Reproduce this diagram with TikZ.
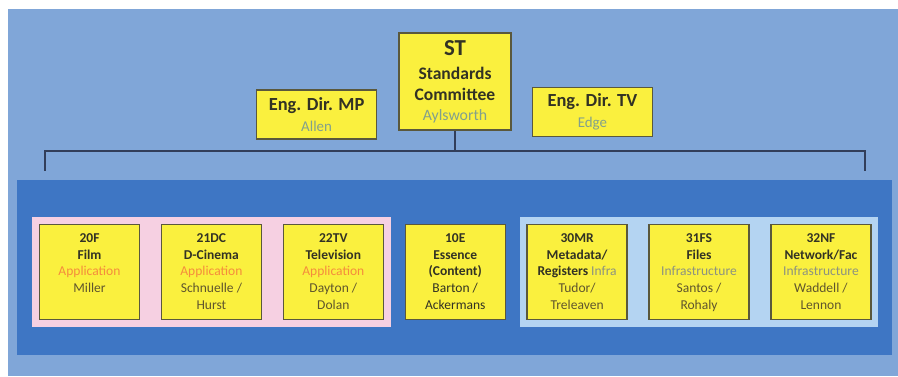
\documentclass[tikz,border=0pt]{standalone}
\usepackage{fontspec}
\setmainfont{Carlito}
\usetikzlibrary{positioning, fit, backgrounds}

\definecolor{pagebg}{RGB}{128,166,216}
\definecolor{bandbg}{RGB}{62,118,196}
\definecolor{pinkbg}{RGB}{246,208,226}
\definecolor{skybg}{RGB}{180,212,242}
\definecolor{boxfill}{RGB}{250,240,62}
\definecolor{boxline}{RGB}{90,88,60}
\definecolor{appcol}{RGB}{245,140,60}
\definecolor{infracol}{RGB}{140,146,128}
\definecolor{namecol}{RGB}{95,85,45}
\definecolor{headcol}{RGB}{50,50,36}
\definecolor{chaircol}{RGB}{130,160,140}
\definecolor{linecol}{RGB}{50,62,90}

\newcommand{\unittext}[1]{\parbox[c][1.9cm][t]{1.98cm}{\centering\vspace*{5pt}#1}}

\begin{document}
\begin{tikzpicture}[
      node distance = 0.41cm,
      head/.style = {draw=boxline, line width=0.8pt, fill=boxfill, align=center,
                     text=headcol, inner sep=0pt, font=\fontsize{10}{12}\selectfont},
      unit/.style = {draw=boxline, line width=0.8pt, fill=boxfill, inner sep=0pt,
                     minimum width=2.0cm, minimum height=1.9cm, text=headcol,
                     font=\fontsize{7.7}{9.6}\selectfont},
      grp/.style  = {inner sep=0.13cm},
      bus/.style  = {draw=linecol, line width=0.8pt}
    ]
    \useasboundingbox (0,0) rectangle (17.96,-7.54);

    % ---- top: committee and engineering directors ----
    \node[head, minimum width=2.24cm, minimum height=1.94cm] (st) at (9.1,-1.63)
        {{\fontsize{13}{15}\selectfont\bfseries ST}\\[2pt]
         {\bfseries Standards}\\
         {\bfseries Committee}\\[-1pt]
         {\color{chaircol}\fontsize{9}{11}\selectfont Aylsworth}};
    \node[head, minimum width=2.4cm, minimum height=0.98cm,
          left=0.42cm of st, yshift=-0.66cm] (engmp)
        {{\bfseries\fontsize{10.5}{12}\selectfont Eng. Dir. MP}\\
         {\color{chaircol}\fontsize{8.5}{10}\selectfont Allen}};
    \node[head, minimum width=2.4cm, minimum height=0.98cm,
          right=0.4cm of st, yshift=-0.61cm] (engtv)
        {{\bfseries\fontsize{10.5}{12}\selectfont Eng. Dir. TV}\\
         {\color{chaircol}\fontsize{8.5}{10}\selectfont Edge}};

    % ---- bottom row: technology committees ----
    \node[unit] (f20) at (1.79,-5.44)
        {\unittext{\textbf{20F}\\\textbf{Film}\\{\color{appcol}Application}\\{\color{namecol}Miller}}};
    \node[unit, right=of f20] (dc21)
        {\unittext{\textbf{21DC}\\\textbf{D-Cinema}\\{\color{appcol}Application}\\{\color{namecol}Schnuelle /}\\{\color{namecol}Hurst}}};
    \node[unit, right=of dc21] (tv22)
        {\unittext{\textbf{22TV}\\\textbf{Television}\\{\color{appcol}Application}\\{\color{namecol}Dayton /}\\{\color{namecol}Dolan}}};
    \node[unit, right=of tv22] (e10)
        {\unittext{\textbf{10E}\\\textbf{Essence}\\\textbf{(Content)}\\Barton /\\Ackermans}};
    \node[unit, right=of e10] (mr30)
        {\unittext{\textbf{30MR}\\\textbf{Metadata/}\\\textbf{Registers} {\color{infracol}Infra}\\{\color{namecol}Tudor/}\\{\color{namecol}Treleaven}}};
    \node[unit, right=of mr30] (fs31)
        {\unittext{\textbf{31FS}\\\textbf{Files}\\{\color{infracol}Infrastructure}\\{\color{namecol}Santos /}\\{\color{namecol}Rohaly}}};
    \node[unit, right=of fs31] (nf32)
        {\unittext{\textbf{32NF}\\\textbf{Network/Fac}\\{\color{infracol}Infrastructure}\\{\color{namecol}Waddell /}\\{\color{namecol}Lennon}}};

    % ---- backgrounds and groups ----
    \begin{scope}[on background layer]
      \fill[white] (0,0) rectangle (17.96,-7.54);
      \fill[pagebg] (0.16,-0.18) rectangle (17.96,-7.52);
      \fill[bandbg] (0.34,-3.6) rectangle (17.84,-7.1);
      \node[grp, fill=pinkbg, fit=(f20)(tv22)] (appgrp) {};
      \node[grp, fill=skybg, fit=(mr30)(nf32)] (infgrp) {};
    \end{scope}

    % ---- bracket from the committee ----
    \coordinate (busL) at (0.9,-3.02);
    \coordinate (busR) at (17.3,-3.02);
    \draw[bus] (st.south) -- (st.south |- busL);
    \draw[bus] ([yshift=-0.4cm]busL) -- (busL) -- (busR) -- ([yshift=-0.4cm]busR);

  \end{tikzpicture}
\end{document}
